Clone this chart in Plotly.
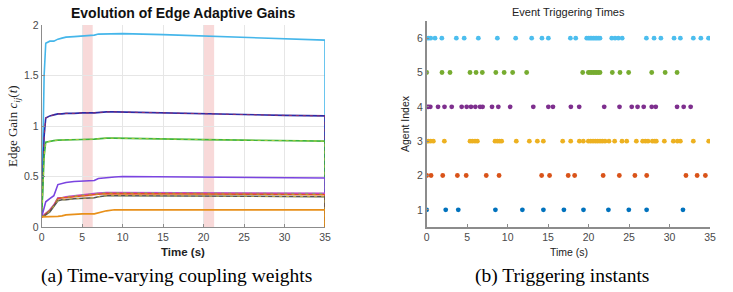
import plotly.graph_objects as go

# ---------------- data: (a) edge adaptive gains ----------------
t_gain = [0, 0.3, 0.5, 1, 1.5, 2, 2.5, 3, 4, 5, 6.5, 7, 8, 9, 10, 15, 20, 25, 30, 35, 35]
gain_cyan    = [0.1, 1.5, 1.82, 1.84, 1.84, 1.86, 1.87, 1.88, 1.885, 1.89, 1.90, 1.91, 1.91, 1.915, 1.915, 1.905, 1.89, 1.875, 1.86, 1.85, 0]
gain_blue    = [0.1, 0.9, 1.08, 1.10, 1.11, 1.12, 1.12, 1.125, 1.125, 1.13, 1.13, 1.135, 1.14, 1.14, 1.138, 1.13, 1.12, 1.115, 1.105, 1.10, 0]
gain_green   = [0.1, 0.7, 0.84, 0.85, 0.855, 0.86, 0.86, 0.862, 0.865, 0.867, 0.87, 0.875, 0.88, 0.88, 0.878, 0.872, 0.865, 0.86, 0.855, 0.85, 0]
gain_violet  = [0.1, 0.2, 0.25, 0.28, 0.31, 0.42, 0.43, 0.44, 0.45, 0.455, 0.46, 0.48, 0.49, 0.495, 0.5, 0.497, 0.495, 0.492, 0.49, 0.485, 0]
gain_magenta = [0.1, 0.12, 0.14, 0.17, 0.22, 0.29, 0.29, 0.30, 0.31, 0.32, 0.33, 0.335, 0.34, 0.34, 0.34, 0.34, 0.338, 0.336, 0.335, 0.333, 0]
gain_red     = [0.1, 0.11, 0.13, 0.16, 0.21, 0.28, 0.29, 0.29, 0.30, 0.31, 0.32, 0.325, 0.33, 0.33, 0.33, 0.33, 0.328, 0.325, 0.322, 0.32, 0]
gain_dark    = [0.1, 0.11, 0.12, 0.15, 0.20, 0.26, 0.27, 0.27, 0.28, 0.285, 0.29, 0.30, 0.31, 0.31, 0.31, 0.31, 0.308, 0.305, 0.302, 0.30, 0]
gain_orange  = [0.1, 0.1, 0.1, 0.1, 0.1, 0.105, 0.11, 0.12, 0.125, 0.13, 0.13, 0.14, 0.16, 0.17, 0.17, 0.17, 0.17, 0.17, 0.17, 0.17, 0]

attack_windows = [(5.0, 6.3), (20.0, 21.3)]

# ---------------- data: (b) event triggering times ----------------
agent_ids = [1, 2, 3, 4, 5, 6]
events_1 = [0, 2.35, 3.9, 8.49, 11.82, 14.42, 16.95, 19.37, 22.45, 24.97, 27.17, 31.66]
events_2 = [0, 0.54, 1.98, 3.79, 4.88, 7.36, 8.94, 14.2, 15.18, 17.48, 18.28, 21.8, 23.8, 25.72, 27.18, 32.03, 33.41, 34.43]
events_3 = [0, 0.2, 0.49, 0.82, 2.18, 5.35, 5.64, 5.97, 6.26, 8.44, 8.73, 9.01, 9.26, 11.07, 12.68,
            13.67, 14.41, 16.8, 17.79, 18.86, 19.35, 19.97, 20.26, 20.55, 20.84, 21.12, 21.41, 21.7,
            22.03, 22.52, 23.22, 24.13, 24.71, 25.9, 26.68, 27.01, 27.34, 27.88, 28.17, 28.37, 29.36,
            30.47, 30.97, 31.34, 32.94, 34.84]
events_4 = [0, 0.2, 0.45, 1.4, 2.2, 3.09, 4.32, 4.94, 5.47, 6.01, 6.59, 6.91, 8.07, 8.85, 10.31,
            13.17, 15.03, 15.6, 17.81, 18.84, 21.93, 23.82, 25.33, 26.05, 26.81, 27.8, 28.3, 30.93,
            31.75, 32.61]
events_5 = [0, 1.89, 2.88, 5.35, 6.1, 6.87, 8.54, 9.57, 10.62, 12.35, 19.27, 19.97, 20.18, 20.39,
            20.6, 20.8, 21.0, 21.2, 21.41, 22.93, 23.88, 24.95, 27.8, 29.46, 30.93]
events_6 = [0, 0.25, 0.5, 1.03, 1.87, 3.66, 4.63, 6.38, 8.73, 10.99, 12.97, 14.24, 15.03, 17.75,
            18.41, 19.77, 20.0, 20.2, 20.4, 20.6, 20.8, 21.0, 21.2, 21.41, 22.86, 23.27, 23.68, 24.15,
            27.14, 28.09, 28.93, 30.56, 31.34, 32.94, 33.87, 34.82]

x_ticks = [0, 5, 10, 15, 20, 25, 30, 35]
gain_ticks = [0, 0.5, 1, 1.5, 2]
gain_tick_labels = ["0", "0.5", "1", "1.5", "2"]

# ---------------- figure ----------------
fig = go.Figure()

gain_series = [
    (gain_cyan, "#45B6EA", None),
    (gain_blue, "#2B2BA8", "#B0305A"),
    (gain_green, "#3DB53D", "#C8D040"),
    (gain_violet, "#7A44E0", None),
    (gain_magenta, "#C04AC8", "#6CC86C"),
    (gain_red, "#E0522A", "#D6A020"),
    (gain_dark, "#555555", "#D8C83A"),
    (gain_orange, "#E8901A", None),
]
for vals, col, dcol in gain_series:
    fig.add_trace(go.Scatter(x=t_gain, y=vals, mode="lines", xaxis="x", yaxis="y",
                             line=dict(color=col, width=1.6), showlegend=False, hoverinfo="skip"))
    if dcol:
        fig.add_trace(go.Scatter(x=t_gain, y=vals, mode="lines", xaxis="x", yaxis="y",
                                 line=dict(color=dcol, width=0.8, dash="3px,4px"),
                                 showlegend=False, hoverinfo="skip"))

for x0, x1 in attack_windows:
    fig.add_shape(type="rect", xref="x", yref="y", x0=x0, x1=x1, y0=0, y1=2,
                  fillcolor="rgba(240,170,170,0.45)", line_width=0, layer="below")

agent_colors = ["#0072BD", "#D95319", "#EDB120", "#7E2F8E", "#77AC30", "#4DBEEE"]
all_events = [events_1, events_2, events_3, events_4, events_5, events_6]
for aid, ev, col in zip(agent_ids, all_events, agent_colors):
    fig.add_trace(go.Scatter(x=ev, y=[aid] * len(ev), mode="markers", xaxis="x2", yaxis="y2",
                             marker=dict(color=col, size=4.8), showlegend=False, hoverinfo="skip"))

W, H = 733, 292
def px(x):
    return x / W
def py(y):
    return (H - y) / H

tickfont = dict(family="Liberation Sans, Arial, sans-serif", size=10.5, color="#4A4A4A")

fig.update_layout(
    width=W, height=H,
    margin=dict(l=0, r=0, t=0, b=0, autoexpand=False),
    paper_bgcolor="white", plot_bgcolor="white",
    xaxis=dict(domain=[px(41.7), px(325)], range=[0, 35], tickvals=x_ticks, automargin=False,
               showgrid=True, gridcolor="#E6E6E6", gridwidth=1, zeroline=False,
               showline=True, linecolor="#8C8C8C", linewidth=1, mirror=False,
               ticks="inside", ticklen=3, tickcolor="#8C8C8C", tickfont=tickfont),
    yaxis=dict(domain=[py(227), py(25)], range=[0, 2], tickvals=gain_ticks, ticktext=gain_tick_labels,
               automargin=False,
               showgrid=True, gridcolor="#E6E6E6", gridwidth=1, zeroline=False,
               showline=True, linecolor="#8C8C8C", linewidth=1, mirror=False,
               ticks="inside", ticklen=3, tickcolor="#8C8C8C", tickfont=tickfont),
    xaxis2=dict(domain=[px(426.7), px(710)], range=[0, 35], tickvals=x_ticks, anchor="y2",
                automargin=False, showgrid=False, zeroline=False,
                showline=True, linecolor="#8C8C8C", linewidth=1.5,
                ticks="inside", ticklen=3, tickcolor="#8C8C8C", tickfont=tickfont),
    yaxis2=dict(domain=[py(227), py(21)], range=[0.5, 6.5], tickvals=agent_ids, anchor="x2",
                automargin=False, showgrid=False, zeroline=False,
                showline=True, linecolor="#8C8C8C", linewidth=1.5,
                ticks="inside", ticklen=3, tickcolor="#8C8C8C", tickfont=tickfont),
)

sans = "Liberation Sans, Arial, sans-serif"
serif = "Liberation Serif, Times New Roman, serif"
annotations = [
    dict(text="<b>Evolution of Edge Adaptive Gains</b>", x=px(183), y=py(13),
         font=dict(family=sans, size=14, color="#111111")),
    dict(text="<b>Time (s)</b>", x=px(183), y=py(252), font=dict(family=sans, size=11.5, color="#222222")),
    dict(text="Edge Gain <i>c<sub>ij</sub></i>(<i>t</i>)", x=px(14), y=py(126), textangle=-90,
         font=dict(family=serif, size=13, color="#222222")),
    dict(text="(a) Time-varying coupling weights", x=px(176), y=py(276),
         font=dict(family=serif, size=19.5, color="#000000")),
    dict(text="Event Triggering Times", x=px(568), y=py(12), font=dict(family=sans, size=11, color="#222222")),
    dict(text="Time (s)", x=px(569), y=py(252), font=dict(family=sans, size=10.5, color="#222222")),
    dict(text="Agent Index", x=px(405), y=py(124), textangle=-90,
         font=dict(family=sans, size=10.5, color="#222222")),
    dict(text="(b) Triggering instants", x=px(562), y=py(276),
         font=dict(family=serif, size=19.5, color="#000000")),
]
for a in annotations:
    a.update(xref="paper", yref="paper", showarrow=False, xanchor="center", yanchor="middle")
fig.update_layout(annotations=annotations)

fig.write_html("out.html", config={"displayModeBar": False},
               post_script="document.body.style.margin='0';document.documentElement.style.overflow='hidden';document.body.style.overflow='hidden';")
